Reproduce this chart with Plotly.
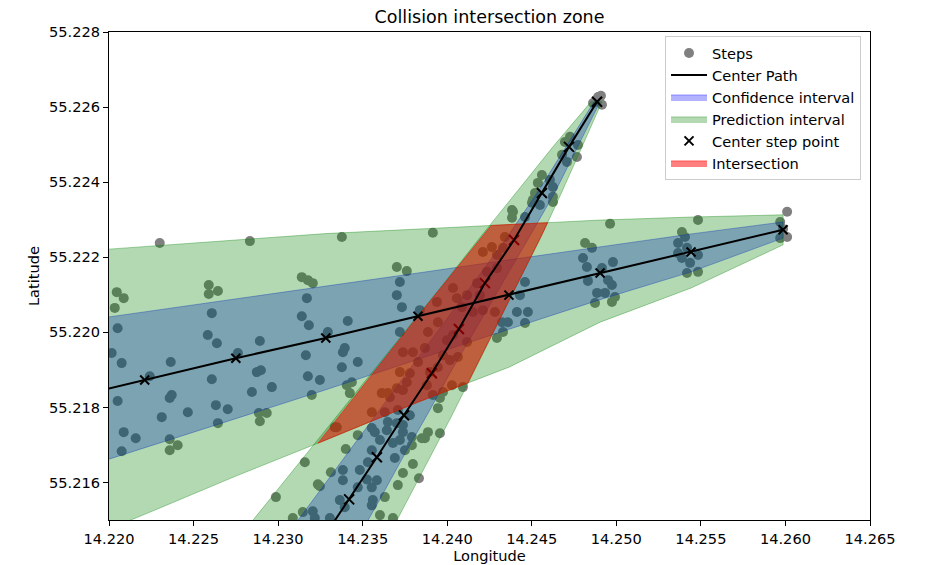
import plotly.graph_objects as go

# ---------------- data ----------------
# Path A (shallow) : centre steps, prediction (green) and confidence (blue) bounds
A_lon = [14.21673, 14.22211, 14.22750, 14.23282, 14.23827, 14.24365, 14.24904, 14.25442, 14.25986]
A_lat = [55.21815, 55.21873, 55.21931, 55.21985, 55.22043, 55.22099, 55.22158, 55.22214, 55.22273]
A_pred_up = [55.22211, 55.22229, 55.22246, 55.22263, 55.22275, 55.22287, 55.22299, 55.22307, 55.22313]
A_pred_lo = [55.21417, 55.21515, 55.21617, 55.21713, 55.21814, 55.21907, 55.22027, 55.22118, 55.22233]
A_conf_up = [55.22020, 55.22054, 55.22089, 55.22123, 55.22158, 55.22193, 55.22228, 55.22262, 55.22294]
A_conf_lo = [55.21615, 55.21693, 55.21770, 55.21847, 55.21928, 55.22008, 55.22087, 55.22161, 55.22251]

# Path B (steep) : centre steps, bounds given as longitudes at the step latitudes
B_lat = [55.21443, 55.21555, 55.21667, 55.21779, 55.21891, 55.22009, 55.22131, 55.22246, 55.22371, 55.22494, 55.22614]
B_lon = [14.23253, 14.23420, 14.23584, 14.23744, 14.23909, 14.24069, 14.24223, 14.24395, 14.24560, 14.24720, 14.24886]
B_pred_left = [14.22750, 14.22951, 14.23152, 14.23350, 14.23549, 14.23762, 14.23981, 14.24182, 14.24407, 14.24625, 14.24850]
B_pred_right = [14.23637, 14.23768, 14.23898, 14.24028, 14.24154, 14.24284, 14.24418, 14.24546, 14.24675, 14.24797, 14.24915]
B_conf_left = [14.23025, 14.23208, 14.23392, 14.23576, 14.23760, 14.23953, 14.24154, 14.24343, 14.24531, 14.24702, 14.24868]
B_conf_right = [14.23460, 14.23602, 14.23738, 14.23880, 14.24016, 14.24170, 14.24327, 14.24475, 14.24635, 14.24772, 14.24904]

# Observed steps (scatter points)
steps_lon = [
    14.22300, 14.22833, 14.22046, 14.22087, 14.22034, 14.22590, 14.22644, 14.22590, 14.23140, 14.23176,
    14.23205, 14.22608, 14.22051, 14.22584, 14.22638, 14.22892, 14.23170, 14.23140, 14.23182, 14.22016,
    14.22075, 14.22365, 14.22762, 14.22241, 14.23164, 14.22608, 14.22874, 14.22898, 14.23176, 14.22051,
    14.22359, 14.22371, 14.22845, 14.22963, 14.23199, 14.22466, 14.22632, 14.22702, 14.22312, 14.22886,
    14.22933, 14.22892, 14.22644, 14.22087, 14.22158, 14.22359, 14.22406, 14.22359, 14.22075, 14.23158,
    14.22987, 14.23087, 14.23146, 14.23205, 14.23235, 14.23347, 14.23554, 14.23471, 14.23400, 14.23312,
    14.23247, 14.23217, 14.23383, 14.23383, 14.23365, 14.23394, 14.23483, 14.23531, 14.23525, 14.23554,
    14.23584, 14.23471, 14.23572, 14.23602, 14.23554, 14.23643, 14.23679, 14.23702, 14.23738, 14.23750,
    14.23690, 14.23560, 14.23554, 14.23602, 14.23631, 14.23708, 14.23738, 14.23797, 14.23791, 14.23868,
    14.23886, 14.23957, 14.23833, 14.23679, 14.23306, 14.23377, 14.23915, 14.23702, 14.23761, 14.23720,
    14.23702, 14.23732, 14.23838, 14.23412, 14.23720, 14.23294, 14.23394, 14.23383, 14.23471, 14.23377,
    14.23247, 14.23436, 14.23406, 14.23424, 14.23335, 14.23649, 14.23702, 14.23720, 14.23738, 14.23797,
    14.23868, 14.23886, 14.23945, 14.23939, 14.24034, 14.24057, 14.24117, 14.24087, 14.24176, 14.24193,
    14.24235, 14.24211, 14.24264, 14.24294, 14.24330, 14.24341, 14.24294, 14.24282, 14.24211, 14.24152,
    14.24117, 14.24034, 14.23998, 14.24063, 14.24016, 14.23975, 14.23945, 14.23898, 14.23827, 14.23779,
    14.23761, 14.23738, 14.23661, 14.23613, 14.23631, 14.23708, 14.23649, 14.23738, 14.23779, 14.23880,
    14.23915, 14.23975, 14.24028, 14.24093, 14.23945, 14.23957, 14.23850, 14.23554, 14.24324, 14.24330,
    14.24294, 14.23720, 14.23791, 14.24963, 14.25483, 14.24815, 14.24856, 14.24803, 14.24826, 14.24915,
    14.24980, 14.24832, 14.24951, 14.24974, 14.24886, 14.24933, 14.24992, 14.24874, 14.24974, 14.24460,
    14.24430, 14.24412, 14.24477, 14.24359, 14.24460, 14.25388, 14.25406, 14.25365, 14.25418, 14.25388,
    14.25483, 14.25436, 14.25418, 14.25483, 14.25365, 14.24625, 14.24383, 14.24507, 14.26010, 14.25969,
    14.25969, 14.26010, 14.25986, 14.24892, 14.24862, 14.24915, 14.24726, 14.24696, 14.24773, 14.24767,
    14.24679, 14.24708, 14.24560, 14.24536, 14.24607, 14.24625, 14.24519, 14.24625, 14.24501, 14.24548,
    14.24389, 14.24460, 14.24383, 14.24909, 14.24880,
]
steps_lat = [
    55.22238, 55.22243, 55.22107, 55.22091, 55.22065, 55.22126, 55.22110, 55.22102, 55.22147, 55.22139,
    55.22131, 55.22051, 55.22011, 55.21993, 55.21971, 55.21977, 55.22091, 55.22043, 55.22019, 55.21945,
    55.21918, 55.21921, 55.21945, 55.21883, 55.21939, 55.21875, 55.21894, 55.21899, 55.21883, 55.21817,
    55.21825, 55.21833, 55.21841, 55.21854, 55.21833, 55.21787, 55.21806, 55.21795, 55.21774, 55.21785,
    55.21785, 55.21763, 55.21758, 55.21734, 55.21718, 55.21715, 55.21699, 55.21686, 55.21683, 55.21654,
    55.21561, 55.21505, 55.21521, 55.21523, 55.21595, 55.21747, 55.21787, 55.21726, 55.21689, 55.21627,
    55.21590, 55.21505, 55.21633, 55.21606, 55.21553, 55.21534, 55.21633, 55.21654, 55.21608, 55.21587,
    55.21606, 55.21587, 55.21734, 55.21713, 55.21686, 55.21739, 55.21705, 55.21758, 55.21734, 55.21686,
    55.21665, 55.21553, 55.21539, 55.21513, 55.21561, 55.21593, 55.21625, 55.21649, 55.21699, 55.21718,
    55.21734, 55.21731, 55.21611, 55.21505, 55.21505, 55.22254, 55.22265, 55.22174, 55.22163, 55.22134,
    55.22099, 55.22067, 55.22059, 55.22030, 55.22001, 55.22001, 55.21958, 55.21947, 55.21921, 55.21907,
    55.21873, 55.21867, 55.21859, 55.21838, 55.21747, 55.21838, 55.21851, 55.21894, 55.21947, 55.21947,
    55.21958, 55.22001, 55.22027, 55.22081, 55.22118, 55.22091, 55.22099, 55.22067, 55.22131, 55.22099,
    55.22161, 55.22214, 55.22227, 55.22206, 55.22225, 55.22254, 55.22171, 55.22054, 55.22059, 55.22054,
    55.21974, 55.21993, 55.21979, 55.21934, 55.21926, 55.21939, 55.21907, 55.21894, 55.21921, 55.21891,
    55.21867, 55.21846, 55.21827, 55.21838, 55.21787, 55.21793, 55.21761, 55.21753, 55.21779, 55.21859,
    55.21833, 55.21841, 55.21859, 55.21854, 55.21798, 55.21825, 55.21718, 55.21745, 55.22027, 55.22001,
    55.21985, 55.21713, 55.21721, 55.22289, 55.22299, 55.22238, 55.22225, 55.22198, 55.22174, 55.22171,
    55.22187, 55.22137, 55.22139, 55.22126, 55.22105, 55.22105, 55.22094, 55.22078, 55.22081, 55.22134,
    55.22099, 55.22054, 55.22054, 55.22027, 55.22025, 55.22267, 55.22254, 55.22238, 55.22225, 55.22198,
    55.22206, 55.22185, 55.22158, 55.22161, 55.22211, 55.22347, 55.22326, 55.22353, 55.22321, 55.22294,
    55.22251, 55.22254, 55.22275, 55.22627, 55.22611, 55.22606, 55.22521, 55.22507, 55.22499, 55.22467,
    55.22473, 55.22454, 55.22419, 55.22398, 55.22406, 55.22387, 55.22371, 55.22361, 55.22345, 55.22339,
    55.22321, 55.22307, 55.22305, 55.22630, 55.22617,
]

x_ticks = [14.220, 14.225, 14.230, 14.235, 14.240, 14.245, 14.250, 14.255, 14.260, 14.265]
y_ticks = [55.216, 55.218, 55.220, 55.222, 55.224, 55.226, 55.228]

# ---------------- polygons ----------------
A_pred_poly = list(zip(A_lon, A_pred_up)) + list(zip(A_lon[::-1], A_pred_lo[::-1]))
A_conf_poly = list(zip(A_lon, A_conf_up)) + list(zip(A_lon[::-1], A_conf_lo[::-1]))
B_pred_poly = list(zip(B_pred_left, B_lat)) + list(zip(B_pred_right[::-1], B_lat[::-1]))
B_conf_poly = list(zip(B_conf_left, B_lat)) + list(zip(B_conf_right[::-1], B_lat[::-1]))


def clip_polygon(subject, clipper):
    """Sutherland-Hodgman clipping of subject by a convex clipper."""
    area = 0.0
    for i in range(len(clipper)):
        x1, y1 = clipper[i]
        x2, y2 = clipper[(i + 1) % len(clipper)]
        area += x1 * y2 - x2 * y1
    s = 1 if area > 0 else -1

    def inside(p, a, b):
        return s * ((b[0] - a[0]) * (p[1] - a[1]) - (b[1] - a[1]) * (p[0] - a[0])) >= 0

    def inter(p, q, a, b):
        x1, y1 = p; x2, y2 = q; x3, y3 = a; x4, y4 = b
        d = (x1 - x2) * (y3 - y4) - (y1 - y2) * (x3 - x4)
        t = ((x1 - x3) * (y3 - y4) - (y1 - y3) * (x3 - x4)) / d
        return (x1 + t * (x2 - x1), y1 + t * (y2 - y1))

    out = list(subject)
    for i in range(len(clipper)):
        a = clipper[i]
        b = clipper[(i + 1) % len(clipper)]
        inp, out = out, []
        if not inp:
            break
        for j in range(len(inp)):
            cur, prev = inp[j], inp[j - 1]
            if inside(cur, a, b):
                if not inside(prev, a, b):
                    out.append(inter(prev, cur, a, b))
                out.append(cur)
            elif inside(prev, a, b):
                out.append(inter(prev, cur, a, b))
    return out


inter_poly = clip_polygon(A_pred_poly, B_pred_poly)


def closed(poly):
    xs = [p[0] for p in poly] + [poly[0][0]]
    ys = [p[1] for p in poly] + [poly[0][1]]
    return xs, ys


FONT = "DejaVu Sans"
fig = go.Figure()

# Steps
fig.add_trace(go.Scatter(x=steps_lon, y=steps_lat, mode="markers", name="Steps",
                         marker=dict(color="#808080", size=10, line=dict(width=0)),
                         legendrank=1, hoverinfo="skip"))

# Confidence intervals (blue)
for i, poly in enumerate([A_conf_poly, B_conf_poly]):
    xs, ys = closed(poly)
    fig.add_trace(go.Scatter(x=xs, y=ys, mode="lines", fill="toself",
                             fillcolor="rgba(0,0,255,0.3)",
                             line=dict(color="rgba(0,0,255,0.35)", width=1),
                             name="Confidence interval", showlegend=(i == 0),
                             legendrank=3, hoverinfo="skip"))

# Prediction intervals (green)
for i, poly in enumerate([A_pred_poly, B_pred_poly]):
    xs, ys = closed(poly)
    fig.add_trace(go.Scatter(x=xs, y=ys, mode="lines", fill="toself",
                             fillcolor="rgba(0,128,0,0.3)",
                             line=dict(color="rgba(0,128,0,0.35)", width=1),
                             name="Prediction interval", showlegend=(i == 0),
                             legendrank=4, hoverinfo="skip"))

# Steep path step markers (below intersection)
fig.add_trace(go.Scatter(x=B_lon, y=B_lat, mode="markers", showlegend=False,
                         marker=dict(symbol="x-thin", size=10, color="black",
                                     line=dict(width=2, color="black")),
                         hoverinfo="skip"))

# Intersection
xs, ys = closed(inter_poly)
fig.add_trace(go.Scatter(x=xs, y=ys, mode="lines", fill="toself",
                         fillcolor="rgba(255,0,0,0.5)",
                         line=dict(color="rgba(255,0,0,0.5)", width=1),
                         name="Intersection", legendrank=6, hoverinfo="skip"))

# Centre paths
fig.add_trace(go.Scatter(x=A_lon, y=A_lat, mode="lines", name="Center Path",
                         line=dict(color="black", width=2), legendrank=2, hoverinfo="skip"))
fig.add_trace(go.Scatter(x=B_lon, y=B_lat, mode="lines", showlegend=False,
                         line=dict(color="black", width=2), hoverinfo="skip"))

# Shallow path step markers
fig.add_trace(go.Scatter(x=A_lon, y=A_lat, mode="markers", name="Center step point",
                         marker=dict(symbol="x-thin", size=9, color="black",
                                     line=dict(width=2, color="black")),
                         legendrank=5, hoverinfo="skip"))

axis_common = dict(showgrid=False, zeroline=False, showline=True, linecolor="black",
                   linewidth=1, mirror=True, ticks="outside", ticklen=5, tickwidth=1,
                   tickcolor="black", tickformat=".3f", automargin=False,
                   tickfont=dict(family=FONT, size=14.6, color="black"))

fig.update_layout(
    width=925, height=565,
    margin=dict(l=109, r=55, t=32, b=45),
    paper_bgcolor="white", plot_bgcolor="white",
    font=dict(family=FONT, size=14.6, color="black"),
    title=dict(text="Collision intersection zone", x=0.5, xref="paper", xanchor="center",
               y=1 - 17 / 565, yref="container", yanchor="middle",
               font=dict(family=FONT, size=17.5, color="black")),
    xaxis=dict(range=[14.220, 14.265], tickvals=x_ticks,
               title=dict(text="Longitude", standoff=5, font=dict(family=FONT, size=14.6)),
               **axis_common),
    yaxis=dict(range=[55.215, 55.228], tickvals=y_ticks,
               title=dict(text="Latitude", standoff=5, font=dict(family=FONT, size=14.6)),
               **axis_common),
    legend=dict(x=0.9882, xanchor="right", y=0.9918, yanchor="top",
                bgcolor="rgba(255,255,255,0.8)", bordercolor="#cccccc", borderwidth=1,
                font=dict(family=FONT, size=14.6, color="black"), itemwidth=36,
                traceorder="normal"),
    showlegend=True,
)

fig.write_html("out.html")
